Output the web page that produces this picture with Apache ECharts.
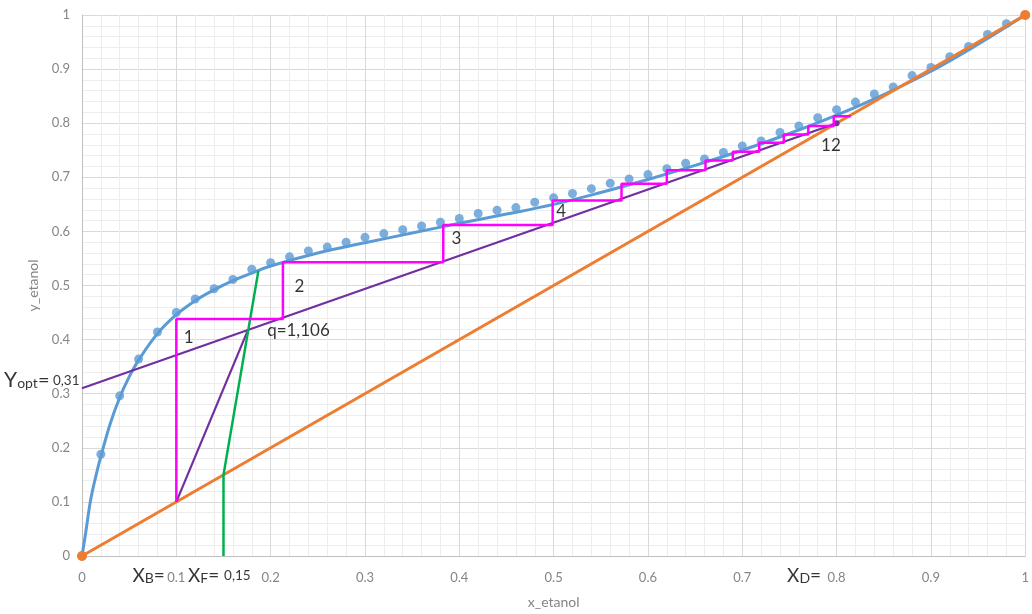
<!DOCTYPE html>
<html>
<head>
<meta charset="utf-8">
<script src="https://cdn.jsdelivr.net/npm/echarts@6/dist/echarts.min.js"></script>
<style>
  html, body { margin: 0; padding: 0; background: #fff; }
  #chart { width: 1032px; height: 614px; }
</style>
</head>
<body>
<div id="chart"></div>
<script>
// Vapour-liquid equilibrium data for ethanol (mole fractions)
const eqX = [0, 0.02, 0.04, 0.06, 0.08, 0.10, 0.12, 0.14, 0.16, 0.18, 0.20, 0.22, 0.24, 0.26, 0.28, 0.30,
  0.32, 0.34, 0.36, 0.38, 0.40, 0.42, 0.44, 0.46, 0.48, 0.50, 0.52, 0.54, 0.56, 0.58, 0.60, 0.62, 0.64,
  0.66, 0.68, 0.70, 0.72, 0.74, 0.76, 0.78, 0.80, 0.82, 0.84, 0.86, 0.88, 0.90, 0.92, 0.94, 0.96, 0.98, 1];
const eqY = [0, 0.188, 0.296, 0.364, 0.414, 0.450, 0.475, 0.494, 0.511, 0.530, 0.542, 0.553, 0.564, 0.571, 0.580, 0.589,
  0.596, 0.603, 0.610, 0.617, 0.624, 0.633, 0.639, 0.644, 0.654, 0.662, 0.670, 0.679, 0.689, 0.697, 0.705, 0.716, 0.726,
  0.734, 0.746, 0.758, 0.767, 0.783, 0.795, 0.810, 0.825, 0.839, 0.854, 0.867, 0.888, 0.903, 0.923, 0.942, 0.964, 0.984, 1];

// Fitted equilibrium curve
const fitX = [0, 0.004, 0.009, 0.015, 0.02, 0.03, 0.04, 0.05, 0.06, 0.08, 0.10, 0.12, 0.14, 0.16, 0.18, 0.20,
  0.25, 0.30, 0.35, 0.40, 0.45, 0.50, 0.55, 0.60, 0.65, 0.70, 0.75, 0.80, 0.85, 0.90, 0.95, 1];
const fitY = [0, 0.044, 0.102, 0.150, 0.184, 0.245, 0.293, 0.331, 0.362, 0.411, 0.446, 0.472, 0.492, 0.509, 0.523, 0.536,
  0.560, 0.579, 0.597, 0.615, 0.632, 0.650, 0.672, 0.696, 0.722, 0.750, 0.781, 0.815, 0.853, 0.896, 0.946, 1];

// Diagonal y = x
const diagX = [0, 1];
const diagY = [0, 1];

// Rectifying operating line (intercept 0.31 -> distillate 0.8)
const rectX = [0, 0.8];
const rectY = [0.31, 0.8];

// Stripping operating line (bottoms 0.1 -> intersection with q-line)
const stripX = [0.1, 0.176];
const stripY = [0.1, 0.418];

// Feed q-line (xF = 0.15, q = 1.106)
const qX = [0.15, 0.15, 0.187];
const qY = [0, 0.15, 0.527];

// Stage construction: riser positions and tread heights
const stepX = [0.1, 0.213, 0.383, 0.499, 0.572, 0.620, 0.661, 0.690, 0.718, 0.744, 0.770, 0.797, 0.815];
const stepY = [0.438, 0.543, 0.612, 0.657, 0.688, 0.713, 0.731, 0.747, 0.764, 0.779, 0.795, 0.813];
const stepStartY = 0.1;

// Stage numbers and q value
const noteText = ['1', '2', '3', '4', '12', 'q=1,106'];
const noteX = [0.113, 0.2305, 0.397, 0.508, 0.794, 0.2295];
const noteY = [0.404, 0.499, 0.587, 0.637, 0.758, 0.416];

const FONT = 'Lato, "Open Sans", sans-serif';
const pairs = (xs, ys) => xs.map((x, i) => [x, ys[i]]);

const stairs = [[stepX[0], stepStartY]];
stepY.forEach((y, i) => {
  stairs.push([stepX[i], y]);
  stairs.push([stepX[i + 1], y]);
});

const subRich = {
  B: { fontSize: 21, lineHeight: 21, verticalAlign: 'bottom', color: '#000', fontFamily: FONT },
  X: { fontSize: 19, lineHeight: 19, verticalAlign: 'bottom', color: '#000', fontFamily: FONT },
  s: { fontSize: 14, lineHeight: 13, verticalAlign: 'bottom', color: '#000', fontFamily: FONT },
  e: { fontSize: 19, lineHeight: 19, verticalAlign: 'bottom', color: '#000', fontFamily: FONT },
  eb: { fontSize: 20, lineHeight: 20, verticalAlign: 'bottom', color: '#000', fontFamily: FONT },
  v: { fontSize: 13.5, lineHeight: 14, verticalAlign: 'bottom', padding: [0, 0, 3, 0], color: '#000', fontFamily: FONT }
};

const symbolLabels = [
  { value: [0, 0.31], text: '{B|Y}{s|opt}{eb|=}{v| 0,31}', position: 'left', offset: [-2, -8] },
  { value: [0.1, 0], text: '{X|X}{s|B}{e|=}', position: 'left', offset: [-11, 20] },
  { value: [0.15, 0], text: '{X|X}{s|F}{e|= }{v|0,15}', position: 'right', offset: [-36, 20] },
  { value: [0.8, 0], text: '{X|X}{s|D}{e|=}', position: 'left', offset: [-15, 20] }
];

const axisCommon = {
  type: 'value',
  min: 0,
  max: 1,
  interval: 0.1,
  axisLine: { show: true, lineStyle: { color: '#bfbfbf', width: 1 } },
  axisTick: { show: false },
  minorTick: { show: false, splitNumber: 5 },
  splitLine: { show: true, lineStyle: { color: '#d9d9d9', width: 1 } },
  minorSplitLine: { show: true, lineStyle: { color: '#ededed', width: 1 } },
  nameLocation: 'middle',
  nameTextStyle: { color: '#858585', fontSize: 14, fontFamily: FONT }
};

const chart = echarts.init(document.getElementById('chart'), null, { renderer: 'canvas' });
chart.setOption({
  animation: false,
  backgroundColor: '#fff',
  grid: { left: 82, right: 6, top: 15, bottom: 57, containLabel: false },
  xAxis: Object.assign({}, axisCommon, {
    name: 'x_etanol',
    nameGap: 39,
    axisLabel: { color: '#858585', fontSize: 13, margin: 15, fontFamily: FONT }
  }),
  yAxis: Object.assign({}, axisCommon, {
    name: 'y_etanol',
    nameGap: 38,
    axisLabel: { color: '#858585', fontSize: 13, margin: 12, fontFamily: FONT }
  }),
  series: [
    {
      name: 'equilibrium fit', type: 'line', data: pairs(fitX, fitY),
      smooth: 0.4, symbol: 'none',
      lineStyle: { color: '#5b9bd5', width: 3 }, z: 2
    },
    {
      name: 'equilibrium data', type: 'scatter', data: pairs(eqX, eqY),
      symbol: 'circle', symbolSize: 9, itemStyle: { color: '#5b9bd5' }, z: 3
    },
    {
      name: 'diagonal', type: 'line', data: pairs(diagX, diagY),
      symbol: 'circle', symbolSize: 10, showSymbol: true,
      itemStyle: { color: '#ed7d31' }, lineStyle: { color: '#ed7d31', width: 3 }, z: 4
    },
    {
      name: 'rectifying line', type: 'line',
      data: [{ value: [rectX[0], rectY[0]], symbol: 'none' }, { value: [rectX[1], rectY[1]], symbol: 'circle', symbolSize: 6 }],
      showSymbol: true, itemStyle: { color: '#7030a0' }, lineStyle: { color: '#7030a0', width: 2.2 }, z: 5
    },
    {
      name: 'stripping line', type: 'line', data: pairs(stripX, stripY),
      symbol: 'none', lineStyle: { color: '#7030a0', width: 2.2 }, z: 5
    },
    {
      name: 'q-line', type: 'line', data: pairs(qX, qY),
      symbol: 'none', lineStyle: { color: '#00b050', width: 2.5 }, z: 6
    },
    {
      name: 'stages', type: 'line', data: stairs,
      symbol: 'none', lineStyle: { color: '#ff00ff', width: 2.5 }, z: 7
    },
    {
      name: 'notes', type: 'scatter',
      data: noteText.map((t, i) => ({ name: t, value: [noteX[i], noteY[i]] })),
      symbol: 'circle', symbolSize: 1, itemStyle: { color: 'rgba(0,0,0,0)' },
      label: { show: true, position: 'inside', formatter: p => p.name, color: '#000', fontSize: 17, fontFamily: FONT },
      z: 10
    },
    {
      name: 'compositions', type: 'scatter',
      data: symbolLabels.map(d => ({
        value: d.value,
        label: { show: true, position: d.position, distance: 0, offset: d.offset, formatter: d.text, rich: subRich }
      })),
      symbol: 'circle', symbolSize: 1, itemStyle: { color: 'rgba(0,0,0,0)' },
      label: { show: true },
      z: 10
    }
  ]
});
</script>
</body>
</html>
